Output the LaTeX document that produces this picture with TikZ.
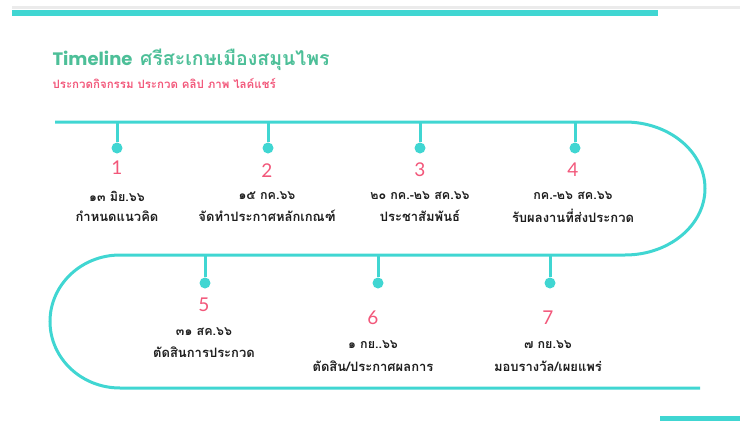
\documentclass[tikz,border=0pt]{standalone}
\usepackage{fontspec}
\setmainfont{Lato}
\newfontfamily\thaifont[Script=Thai]{Loma}
\newfontfamily\titlefont{Poppins}
\usetikzlibrary{positioning}
\definecolor{tealline}{HTML}{40D6D2}
\definecolor{titlegreen}{HTML}{4DBF98}
\definecolor{pinknum}{HTML}{F2577A}
\definecolor{textdark}{HTML}{1E1E1E}
\tikzset{
  snake/.style={draw=tealline, line width=3pt},
  stem/.style={draw=tealline, line width=3pt},
  dot/.style={circle, fill=tealline, inner sep=0pt, minimum size=11pt},
  num/.style={text=pinknum, font=\fontsize{19}{19}\selectfont},
  date/.style={text=textdark, font=\thaifont\bfseries\fontsize{12.5}{12.5}\selectfont},
  task/.style={text=textdark, font=\thaifont\bfseries\fontsize{13}{13}\selectfont},
}
\begin{document}
\begin{tikzpicture}[x=1pt, y=-1pt]
    \useasboundingbox (0,0) rectangle (740,421);
    % top bars
    \fill[black!8] (12,6) rectangle (740,9);
    \fill[tealline] (12,10) rectangle (658,16);

    \node[anchor=west, text=titlegreen] (title) at (49,60)
        {\titlefont\bfseries\fontsize{18}{18}\selectfont Timeline\ \ \thaifont\bfseries\fontsize{19.5}{19.5}\selectfont ศรีสะเกษเมืองสมุนไพร};
    \node[anchor=west, text=pinknum] (subtitle) at (49,83)
        {\thaifont\bfseries\fontsize{11.5}{11.5}\selectfont ประกวดกิจกรรม ประกวด คลิป ภาพ ไลค์แชร์};

    % the winding line
    \draw[snake] (55,122) -- (625,122)
        arc[start angle=-90, end angle=90, x radius=80, y radius=66.5]
        -- (120,255)
        arc[start angle=-90, end angle=-270, x radius=70, y radius=66.5]
        -- (700,388);
    \fill[tealline] (660,416) rectangle (740,421);

    % upper row
    \coordinate (t1) at (117,122);
    \coordinate (t2) at (268,122);
    \coordinate (t3) at (420,122);
    \coordinate (t4) at (575,122);
    \node[dot] (d1) at (117,148) {};
    \node[dot] (d2) at (268,148) {};
    \node[dot] (d3) at (420,148) {};
    \node[dot] (d4) at (575,148) {};
    \draw[stem] (t1) -- (d1);
    \draw[stem] (t2) -- (d2);
    \draw[stem] (t3) -- (d3);
    \draw[stem] (t4) -- (d4);

    \node[num] (n1) at (117,168) {1};
    \node[num] (n2) at (267,171) {2};
    \node[num] (n3) at (420,170) {3};
    \node[num] (n4) at (573,170) {4};
    \node[date] (a1) at (117,196) {๑๓ มิย.๖๖};
    \node[date] (a2) at (267,196) {๑๕ กค.๖๖};
    \node[date] (a3) at (420,196) {๒๐ กค.-๒๖ สค.๖๖};
    \node[date] (a4) at (573,196) {กค.-๒๖ สค.๖๖};
    \node[task] (b1) at (117,216) {กำหนดแนวคิด};
    \node[task] (b2) at (267,216) {จัดทำประกาศหลักเกณฑ์};
    \node[task] (b3) at (420,216) {ประชาสัมพันธ์};
    \node[task] (b4) at (573,216) {รับผลงานที่ส่งประกวด};

    % lower row
    \coordinate (t5) at (205,255);
    \coordinate (t6) at (378,255);
    \coordinate (t7) at (550,255);
    \node[dot] (d5) at (205,283) {};
    \node[dot] (d6) at (378,283) {};
    \node[dot] (d7) at (550,283) {};
    \draw[stem] (t5) -- (d5);
    \draw[stem] (t6) -- (d6);
    \draw[stem] (t7) -- (d7);

    \node[num] (n5) at (204,305) {5};
    \node[num] (n6) at (373,318) {6};
    \node[num] (n7) at (548,318) {7};
    \node[date] (a5) at (204,332) {๓๑ สค.๖๖};
    \node[date] (a6) at (373,345) {๑ กย..๖๖};
    \node[date] (a7) at (548,345) {๗ กย.๖๖};
    \node[task] (b5) at (204,352) {ตัดสินการประกวด};
    \node[task] (b6) at (373,366) {ตัดสิน/ประกาศผลการ};
    \node[task] (b7) at (548,366) {มอบรางวัล/เผยแพร่};
\end{tikzpicture}
\end{document}
